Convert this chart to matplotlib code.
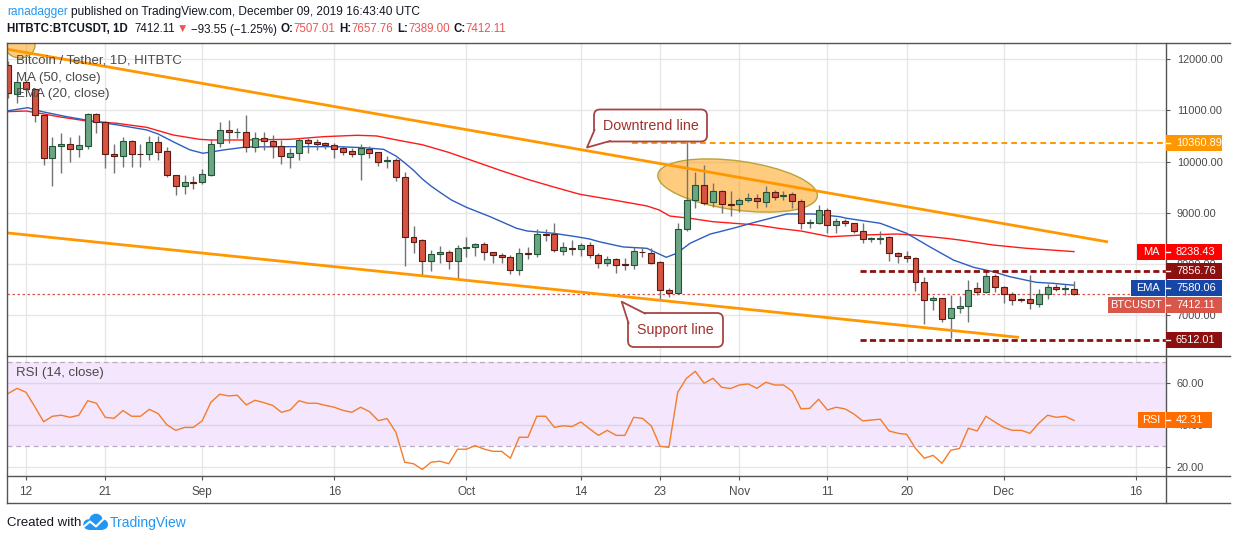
import numpy as np
import pandas as pd
import matplotlib
matplotlib.use("Agg")
import matplotlib.pyplot as plt
import matplotlib.transforms as mtransforms
from matplotlib import font_manager
from matplotlib.patches import Rectangle, Ellipse, FancyBboxPatch, Polygon, Circle
from matplotlib.lines import Line2D

plt.rcParams["font.family"] = ["Liberation Sans", "DejaVu Sans"]
_names = {f.name for f in font_manager.fontManager.ttflist}
HAS_NARROW = "Liberation Sans Narrow" in _names
NARROW = ["Liberation Sans Narrow", "DejaVu Sans"] if HAS_NARROW else ["Liberation Sans", "DejaVu Sans"]
LBL = 8.8 if HAS_NARROW else 7.9      # right scale labels
HDR1 = 10.3 if HAS_NARROW else 8.6    # header line 1
HDR2 = 9.9 if HAS_NARROW else 8.3     # header line 2

W, H = 1234, 540

# ---------------- data (HITBTC:BTCUSDT, 1D) ----------------
dates = pd.date_range("2019-08-10", "2019-12-09", freq="D")

opens = [11890, 11317, 11563, 11415, 10906, 10065, 10300, 10339, 10241, 10300,
         10932, 10775, 10143, 10104, 10397, 10150, 10143, 10378, 10202, 9733,
         9522, 9600, 9600, 9738, 10358, 10612, 10570, 10573, 10292, 10456,
         10397, 10300, 10096, 10163, 10423, 10378, 10358, 10319, 10260, 10207,
         10155, 10240, 10182, 10010, 10026, 9705, 8519, 8460, 8061, 8186,
         8225, 8061, 8303, 8323, 8382, 8237, 8166, 8140, 7873, 8212,
         8186, 8583, 8583, 8257, 8316, 8284, 8362, 8166, 8010, 8088,
         7975, 7971, 8225, 8206, 8029, 7481, 7423, 8675, 9243, 9536,
         9215, 9425, 9164, 9164, 9249, 9294, 9215, 9399, 9330, 9360,
         9229, 8800, 8805, 9053, 8754, 8832, 8793, 8648, 8485, 8491,
         8519, 8206, 8147, 8108, 7638, 7286, 7325, 6933, 7129, 7174,
         7521, 7442, 7761, 7552, 7403, 7300, 7306, 7208, 7403, 7540,
         7505, 7507.01]
highs = [11960, 11600, 11600, 11440, 10920, 10481, 10554, 10476, 10515, 10945,
         10957, 10800, 10350, 10476, 10420, 10339, 10495, 10495, 10280, 9740,
         9733, 9712, 9849, 10449, 10775, 10814, 10658, 10912, 10573, 10573,
         10515, 10423, 10273, 10462, 10460, 10436, 10384, 10358, 10300, 10273,
         10345, 10300, 10190, 10110, 10077, 9790, 8740, 8480, 8270, 8348,
         8270, 8368, 8519, 8413, 8420, 8240, 8206, 8180, 8303, 8335,
         8675, 8675, 8793, 8421, 8466, 8401, 8420, 8206, 8150, 8110,
         8114, 8323, 8335, 8300, 8060, 7521, 8793, 10381, 9803, 9933,
         9575, 9440, 9430, 9290, 9380, 9360, 9523, 9440, 9420, 9400,
         9260, 8870, 9151, 9090, 8903, 8871, 8800, 8805, 8530, 8642,
         8540, 8230, 8251, 8140, 7736, 7364, 7340, 7389, 7370, 7683,
         7640, 7865, 7800, 7560, 7454, 7330, 7781, 7501, 7599, 7600,
         7600, 7657.76]
lows = [11250, 11140, 11390, 10781, 9933, 9528, 9783, 9998, 10084, 10241,
        10566, 9869, 9780, 9900, 9900, 9888, 10026, 10040, 9700, 9341,
        9372, 9464, 9556, 9718, 10286, 10370, 10468, 10194, 10194, 10227,
        10077, 9953, 9881, 10031, 10163, 10227, 10253, 10077, 10129, 10096,
        9646, 10080, 9920, 9869, 9620, 7950, 8217, 7761, 7865, 8010,
        7904, 7703, 8127, 8153, 8075, 8010, 8022, 7795, 7790, 8101,
        8127, 8440, 8231, 8166, 8170, 8153, 8114, 7924, 7960, 7826,
        7885, 7900, 8127, 8003, 7317, 7357, 7403, 8648, 9086, 9150,
        9106, 8988, 8940, 9015, 9200, 9086, 9118, 9240, 9240, 9090,
        8687, 8700, 8780, 8609, 8597, 8734, 8597, 8401, 8433, 8382,
        8061, 8022, 8035, 7462, 6816, 7102, 6867, 6554, 7043, 6855,
        7384, 7420, 7454, 7239, 7188, 7260, 7110, 7160, 7317, 7470,
        7389, 7389.00]
closes = [11337, 11552, 11415, 10906, 10065, 10300, 10339, 10241, 10319, 10932,
          10775, 10143, 10104, 10397, 10143, 10140, 10378, 10182, 9733, 9522,
          9594, 9590, 9757, 10339, 10612, 10573, 10578, 10292, 10456, 10397,
          10311, 10115, 10163, 10423, 10358, 10339, 10319, 10253, 10194, 10155,
          10260, 10170, 9998, 10018, 9705, 8519, 8433, 8061, 8186, 8225,
          8061, 8303, 8310, 8382, 8237, 8166, 8140, 7873, 8206, 8186,
          8577, 8570, 8270, 8323, 8284, 8362, 8166, 8010, 8088, 7971,
          7971, 8245, 8222, 8022, 7481, 7423, 8675, 9243, 9536, 9190,
          9425, 9164, 9160, 9249, 9294, 9223, 9399, 9314, 9336, 9229,
          8793, 8810, 9053, 8754, 8832, 8793, 8648, 8479, 8495, 8511,
          8206, 8147, 8108, 7638, 7286, 7331, 6914, 7129, 7174, 7480,
          7442, 7755, 7552, 7403, 7298, 7298, 7227, 7403, 7540, 7501,
          7513, 7412.11]

rsi_values = [55.2, 57.6, 55.7, 48.9, 41.7, 44.3, 44.8, 43.8, 44.8, 51.7,
              50.5, 43.8, 43.3, 47.0, 44.3, 44.3, 47.6, 45.6, 40.2, 37.6,
              39.0, 39.0, 42.1, 51.0, 54.8, 54.0, 54.3, 49.7, 51.9, 50.8,
              49.5, 46.2, 47.3, 51.7, 50.5, 50.5, 49.5, 48.6, 47.1, 46.2,
              48.6, 46.5, 42.2, 43.2, 36.7, 22.4, 21.7, 19.0, 22.4, 22.9,
              21.7, 28.6, 28.6, 30.3, 28.7, 27.6, 27.6, 24.3, 34.3, 34.3,
              44.3, 44.3, 39.0, 39.8, 39.4, 41.6, 38.3, 35.2, 37.6, 35.2,
              35.2, 43.8, 43.3, 39.7, 30.0, 29.5, 55.7, 62.4, 65.7, 60.0,
              62.4, 58.1, 57.5, 59.2, 59.7, 57.6, 60.5, 59.2, 59.2, 56.2,
              47.8, 48.1, 52.4, 47.3, 48.6, 47.8, 45.4, 42.1, 42.5, 42.9,
              37.3, 36.2, 35.7, 29.0, 24.3, 25.7, 21.9, 28.1, 29.0, 38.6,
              37.3, 44.3, 41.6, 39.0, 37.6, 37.6, 36.2, 41.0, 44.8, 43.8,
              44.3, 42.31]

# moving averages, read at points along the drawn curves (days after Aug 12)
ma_days = [-2.2, 0, 1.6, 4, 6.9, 10.3, 13.7, 16.7, 19.7, 21, 24.3, 30, 33.8, 37.6,
           39.8, 42.5, 45, 48, 51, 54, 57, 60, 62.9, 66.7, 70.5, 71.9, 73.1, 75.4,
           78, 83, 85.6, 88, 91.3, 95, 98.9, 100.8, 104.5, 106, 109.8, 113.6, 119]
ma_vals = [10977, 10990, 10945, 10870, 10795, 10750, 10671, 10521, 10436, 10423,
           10423, 10436, 10488, 10515, 10502, 10410, 10330, 10180, 10000, 9820,
           9650, 9500, 9360, 9249, 9132, 9053, 8935, 8890, 8824, 8759, 8690, 8642,
           8530, 8563, 8583, 8563, 8498, 8466, 8368, 8303, 8238.43]
ema_days = [-2.2, 0.2, 1.9, 4.6, 7.6, 10.3, 13.7, 15, 16.7, 18.6, 20.1, 22.4, 25,
            30, 35.3, 38.3, 40.6, 42, 43, 44, 45, 46, 47, 48.3, 50, 52.7, 55.7,
            56.9, 59.9, 62.5, 64, 65.2, 67.8, 70.5, 72.7, 73.9, 75.4, 77.7, 78.8,
            80.7, 82.6, 85.2, 86.4, 89.4, 92.4, 93.2, 97, 100, 102.6, 105.3, 107.6,
            109.8, 111.7, 114.7, 116.6, 119]
ema_vals = [10990, 11055, 10975, 10880, 10790, 10720, 10620, 10540, 10390, 10230,
            10163, 10227, 10286, 10292, 10292, 10273, 10240, 10110, 9976, 9830,
            9660, 9520, 9400, 9249, 9106, 8922, 8695, 8642, 8597, 8530, 8485, 8427,
            8330, 8303, 8127, 8206, 8401, 8583, 8629, 8714, 8805, 8922, 8975, 8975,
            8922, 8890, 8793, 8597, 8335, 8074, 7931, 7846, 7748, 7638, 7618, 7580.06]

ma_last = 8238.43
ema_last = 7580.06
rsi_last = 42.31
resistance_level = 10360.89
range_top = 7856.76
range_bottom = 6512.01

# trend lines drawn on the chart (day, price anchors)
downtrend_days = [-2.95, 122.7]
downtrend_prices = [12223, 8433]
support_days = [-2.16, 112.6]
support_prices = [8605, 6563]

tick_dates = ["2019-08-12", "2019-08-21", "2019-09-01", "2019-09-16", "2019-10-01",
              "2019-10-14", "2019-10-23", "2019-11-01", "2019-11-11", "2019-11-20",
              "2019-12-01", "2019-12-16"]
tick_labels = ["12", "21", "Sep", "16", "Oct", "14", "23", "Nov", "11", "20", "Dec", "16"]
price_ticks = [7000, 8000, 9000, 10000, 11000, 12000]
rsi_ticks = [20, 40, 60]

# ---------------- figure ----------------
base = pd.Timestamp("2019-08-12")
days = np.array((dates - base).days, dtype=float)
tick_days = [(pd.Timestamp(t) - base).days for t in tick_dates]
o = np.array(opens); h = np.array(highs); l = np.array(lows); c = np.array(closes)

fig = plt.figure(figsize=(W / 100, H / 100), dpi=100)
fig.patch.set_facecolor("white")


def box(x0, y0, x1, y1):
    return [x0 / W, 1 - y1 / H, (x1 - x0) / W, (y1 - y0) / H]


def D(x, y):
    # pixel (from top-left) -> display coords
    return (x, H - y)


ident = mtransforms.IdentityTransform()
GRID = "#e6e6e6"
TXT = "#4a4a4a"

ax = fig.add_axes(box(7, 43.3, 1165.7, 355.7))
ax2 = fig.add_axes(box(7, 355.7, 1165.7, 476.3))
for a in (ax, ax2):
    a.set_xlim(-2.157, 129.41)
    for s in a.spines.values():
        s.set_visible(False)
    for d in tick_days:
        a.axvline(d, color=GRID, lw=1, zorder=0)
ax.set_ylim(6201.6, 12315)
ax2.set_ylim(15.71, 73.14)

# price pane
for p in price_ticks:
    ax.axhline(p, color=GRID, lw=1, zorder=0)
ax.yaxis.tick_right()
ax.set_yticks(price_ticks, [f"{p:.2f}" for p in price_ticks])
ax.tick_params(axis="y", length=3, width=0.8, color="#555555", pad=5,
               labelsize=LBL, labelcolor=TXT, labelfontfamily=NARROW)
ax.tick_params(axis="x", bottom=False, labelbottom=False)

# highlight ellipse on the consolidation and the anchor circle of the downtrend line
cx, cy = ax.transData.transform((80.8, 9532))
ax.add_patch(Ellipse((cx, cy), 161, 49, angle=-7.8, transform=ident,
                     facecolor=(1.0, 0.596, 0.0, 0.5), edgecolor="#b9a23a", lw=1, zorder=1))
ax.add_patch(Ellipse(D(20, 45), 30, 26, transform=ident,
                     facecolor=(1.0, 0.596, 0.0, 0.5), edgecolor="#b9a23a", lw=1, zorder=1))

ax.plot(ma_days, ma_vals, color="#ff1a1a", lw=1.0, zorder=2)
ax.plot(ema_days, ema_vals, color="#2b5fbf", lw=1.0, zorder=2)
ax.axhline(c[-1], color="#d9574a", lw=0.9, ls=(0, (2, 2)), zorder=2)

up = c >= o
bot = np.minimum(o, c)
hgt = np.maximum(np.abs(c - o), 18)
ax.vlines(days, l, h, color="#737375", lw=1, zorder=3)
ax.bar(days[up], hgt[up], bottom=bot[up], width=0.68, color="#6ba583",
       edgecolor="#225437", lw=0.8, zorder=4)
ax.bar(days[~up], hgt[~up], bottom=bot[~up], width=0.68, color="#d75442",
       edgecolor="#5b1a13", lw=0.8, zorder=4)

ax.plot(downtrend_days, downtrend_prices, color="#ff9800", lw=2, zorder=5)
ax.plot(support_days, support_prices, color="#ff9800", lw=2, zorder=5)
ax.plot([68.8, 129.41], [resistance_level] * 2, color="#ff9800", lw=1.4,
        ls=(0, (3, 2)), zorder=5)
for lv in (range_top, range_bottom):
    ax.plot([94.7, 129.41], [lv] * 2, color="#8c1010", lw=2.0, ls=(0, (2.2, 1.2)), zorder=5)

# rsi pane
ax2.axhspan(30, 70, color="#f3e6fd", zorder=0, lw=0)
for r in rsi_ticks:
    ax2.axhline(r, color="#ddd3e8" if r > 30 else GRID, lw=1, zorder=0.5)
for r in (30, 70):
    ax2.axhline(r, color="#b5abc2", lw=0.9, ls=(0, (4, 3)), zorder=1)
ax2.plot(days, rsi_values, color="#f57c2a", lw=1.0, zorder=3)
ax2.yaxis.tick_right()
ax2.set_yticks(rsi_ticks, [f"{r:.2f}" for r in rsi_ticks])
ax2.tick_params(axis="y", length=3, width=0.8, color="#555555", pad=5,
                labelsize=LBL, labelcolor=TXT, labelfontfamily=NARROW)
ax2.set_xticks(tick_days, tick_labels)
ax2.tick_params(axis="x", length=3, width=0.8, color="#555555", pad=4,
                labelsize=8.5, labelcolor=TXT)

# frame
for (x0, y0, x1, y1) in [(7, 43.3, 1230, 43.3), (7, 43.3, 7, 503.3), (7, 503.3, 1230, 503.3),
                         (7, 355.7, 1230, 355.7), (7, 476.3, 1230, 476.3),
                         (1165.7, 43.3, 1165.7, 503.3)]:
    fig.add_artist(Line2D([x0 / W, x1 / W], [1 - y0 / H, 1 - y1 / H], color="#555555",
                          lw=1, transform=fig.transFigure, zorder=2))


def price_px(p):
    return H - ax.transData.transform((0, p))[1]


def rect(x0, y0, x1, y1, color, z=5):
    fig.add_artist(Rectangle((x0 / W, 1 - y1 / H), (x1 - x0) / W, (y1 - y0) / H,
                             transform=fig.transFigure, facecolor=color, edgecolor="none",
                             zorder=z))


def tag(yc, value, color, name=None, name_x0=None, x1=1222):
    rect(1165.7, yc - 8, x1, yc + 8, color)
    fig.add_artist(Line2D([1165.7 / W, 1170 / W], [1 - yc / H] * 2, color="white", lw=1,
                          transform=fig.transFigure, zorder=6))
    fig.text(1176 / W, 1 - yc / H, value, color="white", fontsize=LBL, va="center",
             ha="left", zorder=7, family=NARROW)
    if name:
        rect(name_x0, yc - 8, 1165.2, yc + 8, color)
        fig.text((name_x0 + 1165.2) / 2 / W, 1 - yc / H, name, color="white", fontsize=LBL,
                 va="center", ha="center", zorder=7, family=NARROW)


tag(price_px(resistance_level), f"{resistance_level:.2f}", "#ff9800")
tag(price_px(ma_last), f"{ma_last:.2f}", "#ff0000", "MA", 1137)
stack = [(price_px(range_top), f"{range_top:.2f}", "#8c1010", None, None),
         (price_px(ema_last), f"{ema_last:.2f}", "#1747a6", "EMA", 1131),
         (price_px(c[-1]), f"{c[-1]:.2f}", "#d9574a", "BTCUSDT", 1107.5)]
prev = -100
for yc, val, col, nm, nx in stack:
    yc = max(yc, prev + 17)
    tag(yc, val, col, nm, nx)
    prev = yc
tag(price_px(range_bottom), f"{range_bottom:.2f}", "#8c1010")
rsi_y = H - ax2.transData.transform((0, rsi_last))[1]
tag(rsi_y, f"{rsi_last:.2f}", "#ff6d00", "RSI", 1138, x1=1212)

# legends inside panes
fig.text(16 / W, 1 - 60.7 / H, "Bitcoin / Tether, 1D, HITBTC", fontsize=9.5, color=TXT,
         va="center", zorder=7)
fig.text(16 / W, 1 - 78 / H, "MA (50, close)", fontsize=9.5, color=TXT, va="center", zorder=7)
fig.text(16 / W, 1 - 94.5 / H, "EMA (20, close)", fontsize=9.5, color=TXT, va="center", zorder=7)
fig.text(16 / W, 1 - 373 / H, "RSI (14, close)", fontsize=9.5, color=TXT, va="center", zorder=7)


# callouts
def callout(x0, y0, x1, y1, tail, text):
    fig.add_artist(FancyBboxPatch(D(x0, y1), x1 - x0, y1 - y0,
                                  boxstyle="round,pad=0,rounding_size=6", transform=ident,
                                  facecolor="white", edgecolor="#a84444", lw=1.3, zorder=8))
    pts = [D(*p) for p in tail]
    fig.add_artist(Polygon(pts, closed=True, transform=ident, facecolor="white",
                           edgecolor="none", zorder=9))
    fig.add_artist(Line2D([q[0] for q in pts], [q[1] for q in pts], transform=ident,
                          color="#a84444", lw=1.3, zorder=9))
    fig.text((x0 + x1) / 2 / W, 1 - (y0 + y1) / 2 / H, text, color="#a0302c", fontsize=10.3,
             ha="center", va="center", zorder=10)


callout(594, 109.5, 707, 141.5, [(594.5, 130), (587, 147.5), (610, 141)], "Downtrend line")
callout(628, 313, 723, 347, [(628.5, 323), (621.7, 301.7), (645, 313.5)], "Support line")

# header
renderer = fig.canvas.get_renderer()


def write_parts(x, y, parts, size):
    for s, col, wt, gap in parts:
        t = fig.text(x / W, 1 - y / H, s, color=col, fontsize=size, fontweight=wt,
                     va="center", ha="left", family=NARROW)
        x = t.get_window_extent(renderer=renderer).x1 + gap


RED = "#ef5350"
DARK = "#131722"
write_parts(7, 12.5, [("ranadagger", "#2196f3", "normal", 3),
                      ("published on TradingView.com, December 09, 2019 16:43:40 UTC",
                       DARK, "normal", 0)], HDR1)
write_parts(7, 29.5, [("HITBTC:BTCUSDT, 1D", DARK, "bold", 7), ("7412.11", DARK, "normal", 1),
                      ("▼", RED, "normal", 3), ("−93.55 (−1.25%)", DARK, "normal", 4),
                      ("O:", DARK, "bold", 0), ("7507.01", RED, "normal", 4),
                      ("H:", DARK, "bold", 0), ("7657.76", RED, "normal", 4),
                      ("L:", DARK, "bold", 0), ("7389.00", RED, "normal", 4),
                      ("C:", DARK, "bold", 0), ("7412.11", RED, "normal", 0)], HDR2)

# footer
fig.text(7 / W, 1 - 522.5 / H, "Created with", fontsize=9.5, color=DARK, va="center")
for (x, y, r) in [(88.5, 524.5, 5.2), (96, 520.5, 6.8), (103, 524.5, 5)]:
    fig.add_artist(Circle(D(x, y), r, transform=ident, facecolor="#2196f3",
                          edgecolor="none", zorder=3))
fig.add_artist(Rectangle(D(88.5, 529.6), 14.5, 5, transform=ident, facecolor="#2196f3",
                         edgecolor="none", zorder=3))
zig = [D(84, 526.5), D(90, 521.5), D(96, 526.5), D(103, 519.5)]
fig.add_artist(Line2D([q[0] for q in zig], [q[1] for q in zig], transform=ident,
                      color="white", lw=1.5, zorder=4))
fig.text(110 / W, 1 - 522.5 / H, "TradingView", fontsize=10, color="#2196f3", va="center")

fig.savefig("out.png", dpi=100)
